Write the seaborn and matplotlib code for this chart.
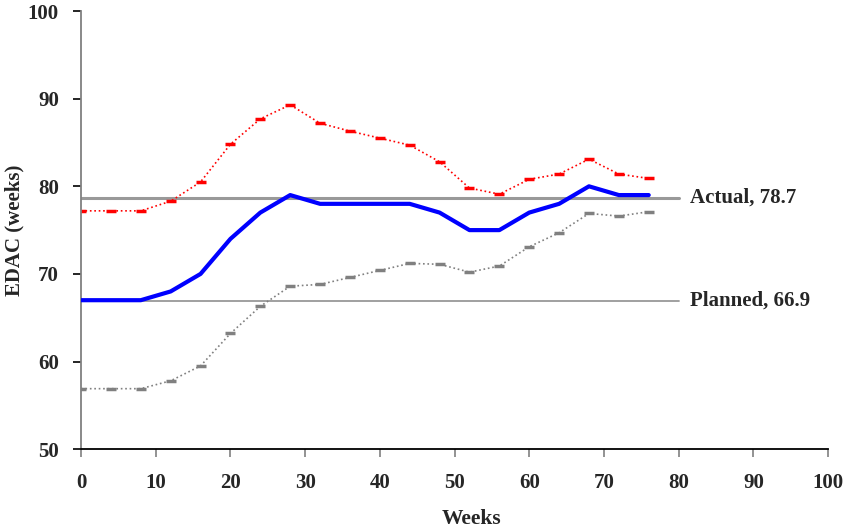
import pandas as pd
import seaborn as sns
import matplotlib.pyplot as plt

# --- Data ---
weeks = [0, 4, 8, 12, 16, 20, 24, 28, 32, 36, 40, 44, 48, 52, 56, 60, 64, 68, 72, 76]
edac = [67, 67, 67, 68, 70, 74, 77, 79, 78, 78, 78, 78, 77, 75, 75, 77, 78, 80, 79, 79]
upper = [77.2, 77.2, 77.2, 78.3, 80.5, 84.8, 87.7, 89.3, 87.2, 86.3, 85.5, 84.7,
         82.8, 79.8, 79.1, 80.8, 81.4, 83.1, 81.4, 80.9]
lower = [56.9, 56.9, 56.9, 57.8, 59.5, 63.2, 66.3, 68.6, 68.8, 69.6, 70.4, 71.2,
         71.1, 70.2, 70.9, 73.1, 74.7, 76.9, 76.6, 77.1]
actual = 78.7
planned = 66.9
ref_end = 80

df = pd.DataFrame({"week": weeks, "edac": edac, "upper": upper, "lower": lower})

sns.set_style("white")
plt.rcParams['font.family'] = ['Liberation Serif', 'DejaVu Serif']
plt.rcParams['font.weight'] = 'bold'

fig = plt.figure(figsize=(8.45, 5.29), dpi=100)
ax = fig.add_axes([0.0959, 0.151, 0.884, 0.828])

# reference lines
ax.plot([0, ref_end], [actual, actual], color='#999999', lw=2.2, zorder=1)
ax.plot([0, ref_end], [planned, planned], color='#999999', lw=1.3, zorder=1)

sns.lineplot(data=df, x="week", y="upper", ax=ax, color='red', lw=1.2,
             linestyle=':', marker='_', markersize=7, markeredgewidth=2.5,
             markeredgecolor='red', zorder=2)
sns.lineplot(data=df, x="week", y="lower", ax=ax, color='#808080', lw=1.2,
             linestyle=':', marker='_', markersize=7, markeredgewidth=2.5,
             markeredgecolor='#808080', zorder=2)
sns.lineplot(data=df, x="week", y="edac", ax=ax, color='#0000ff', lw=3, zorder=3)

ax.text(81.5, actual, f"Actual, {actual}", va='center', ha='left', fontsize=15,
        fontweight='bold')
ax.text(81.5, planned, f"Planned, {planned}", va='center', ha='left', fontsize=15,
        fontweight='bold')

ax.set_xlim(0, 100)
ax.set_ylim(50, 100)
ax.set_xticks(range(0, 101, 10))
ax.set_yticks(range(50, 101, 10))
ax.set_xlabel("Weeks", fontsize=15.5, fontweight='bold')
ax.set_ylabel("EDAC (weeks)", fontsize=15, fontweight='bold')
ax.xaxis.set_label_coords(0.523, -0.136)
ax.yaxis.set_label_coords(-0.076, 0.5)
ax.tick_params(axis='both', labelsize=15, length=6, width=1.2, direction='out',
               bottom=True, left=True)
ax.tick_params(axis='x', color='#808080', pad=11)
ax.tick_params(axis='y', color='black', pad=10)
for lab in ax.get_xticklabels() + ax.get_yticklabels():
    lab.set_fontweight('bold')

sns.despine(ax=ax)
ax.spines['left'].set_color('#808080')
ax.spines['left'].set_linewidth(1.3)
ax.spines['bottom'].set_color('black')
ax.spines['bottom'].set_linewidth(1.3)

plt.savefig("out.png", dpi=100)
